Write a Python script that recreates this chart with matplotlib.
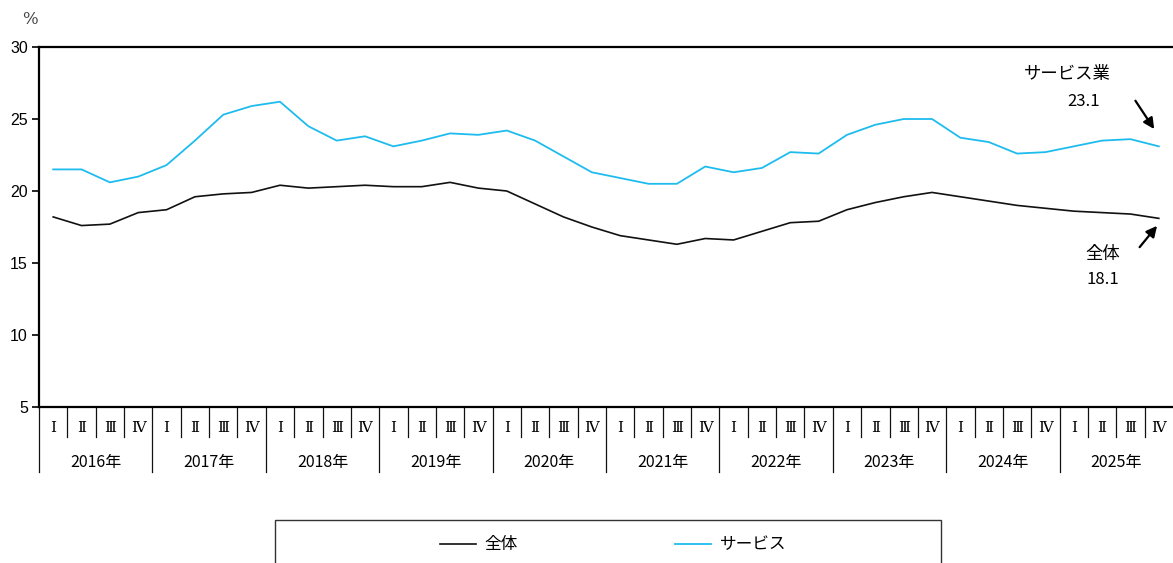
import matplotlib
matplotlib.use("Agg")
import matplotlib.pyplot as plt
from matplotlib.patches import Rectangle
from matplotlib.lines import Line2D
import numpy as np

plt.rcParams['font.family'] = ['Noto Sans CJK JP', 'DejaVu Sans']

years = ['2016年', '2017年', '2018年', '2019年', '2020年',
         '2021年', '2022年', '2023年', '2024年', '2025年']
quarters = ['Ⅰ', 'Ⅱ', 'Ⅲ', 'Ⅳ']

# 全体
zentai = [18.2, 17.6, 17.7, 18.5, 18.7, 19.6, 19.8, 19.9,
          20.4, 20.2, 20.3, 20.4, 20.3, 20.3, 20.6, 20.2,
          20.0, 19.1, 18.2, 17.5, 16.9, 16.6, 16.3, 16.7,
          16.6, 17.2, 17.8, 17.9, 18.7, 19.2, 19.6, 19.9,
          19.6, 19.3, 19.0, 18.8, 18.6, 18.5, 18.4, 18.1]
# サービス業
service = [21.5, 21.5, 20.6, 21.0, 21.8, 23.5, 25.3, 25.9,
           26.2, 24.5, 23.5, 23.8, 23.1, 23.5, 24.0, 23.9,
           24.2, 23.5, 22.4, 21.3, 20.9, 20.5, 20.5, 21.7,
           21.3, 21.6, 22.7, 22.6, 23.9, 24.6, 25.0, 25.0,
           23.7, 23.4, 22.6, 22.7, 23.1, 23.5, 23.6, 23.1]

black = '#111111'
cyan = '#1EBCEE'

fig = plt.figure(figsize=(11.73, 5.63), dpi=100)
ax = fig.add_axes([39 / 1173, 1 - 407 / 563, 1 - 39 / 1173, 360 / 563])

x = np.arange(len(zentai))
ax.plot(x, zentai, color=black, lw=1.2)
ax.plot(x, service, color=cyan, lw=1.3)

ax.set_xlim(-0.5, len(x) - 0.5)
ax.set_ylim(5, 30)
ax.set_yticks([5, 10, 15, 20, 25, 30])
ax.tick_params(axis='y', direction='out', length=5, width=1.2, labelsize=11.5, pad=3)
for lab in ax.get_yticklabels():
    lab.set_family('Liberation Sans')
ax.set_xticks([])
for s in ['left', 'top', 'bottom']:
    ax.spines[s].set_linewidth(1.6)
ax.spines['right'].set_visible(False)

# category axis (quarters / years)
n = len(x)
for k in range(n):
    top = -0.181 if k % 4 == 0 else -0.083
    ax.plot([k - 0.5, k - 0.5], [0, top], color=black, lw=0.9,
            transform=ax.get_xaxis_transform(), clip_on=False)
    ax.text(k, -0.058, quarters[k % 4], ha='center', va='center', fontsize=11,
            transform=ax.get_xaxis_transform(), family=['DejaVu Serif'])
for i, y in enumerate(years):
    ax.text(i * 4 + 1.5, -0.153, y, ha='center', va='center', fontsize=11.5,
            transform=ax.get_xaxis_transform())

fig.text(30 / 1173, 1 - 20 / 563, '%', ha='center', va='center', fontsize=12,
         color='#444444', family=['DejaVu Serif'])

# annotations
last = n - 1
ax.text(35.76, 28.13, 'サービス業', ha='center', va='center', fontsize=12.5)
ax.text(36.33, 26.25, f'{service[-1]:.1f}', ha='center', va='center', fontsize=12)
ax.annotate('', xy=(last - 0.11, service[-1] + 1.04), xytext=(last - 0.88, service[-1] + 3.33),
            arrowprops=dict(arrowstyle='-|>', color='black', lw=1.6, mutation_scale=16),
            annotation_clip=False)
ax.text(37.03, 15.63, '全体', ha='center', va='center', fontsize=12.5)
ax.text(37.03, 13.82, f'{zentai[-1]:.1f}', ha='center', va='center', fontsize=12)
ax.annotate('', xy=(last, zentai[-1] - 0.37), xytext=(last - 0.74, zentai[-1] - 2.15),
            arrowprops=dict(arrowstyle='-|>', color='black', lw=1.6, mutation_scale=16),
            annotation_clip=False)

# legend
fig.patches.append(Rectangle((275 / 1173, -0.1), 666 / 1173, 0.1 + (563 - 520) / 563,
                             transform=fig.transFigure, fill=False, edgecolor='#333333', lw=1.0))
handles = [Line2D([], [], color=black, lw=1.2), Line2D([], [], color=cyan, lw=1.3)]
fig.legend(handles, ['全体', 'サービス'], loc='center', bbox_to_anchor=(613 / 1173, 1 - 545 / 563),
           ncol=2, frameon=False, fontsize=12, handlelength=2.2, handletextpad=0.5,
           columnspacing=9.4)

fig.savefig('out.png', dpi=100)
